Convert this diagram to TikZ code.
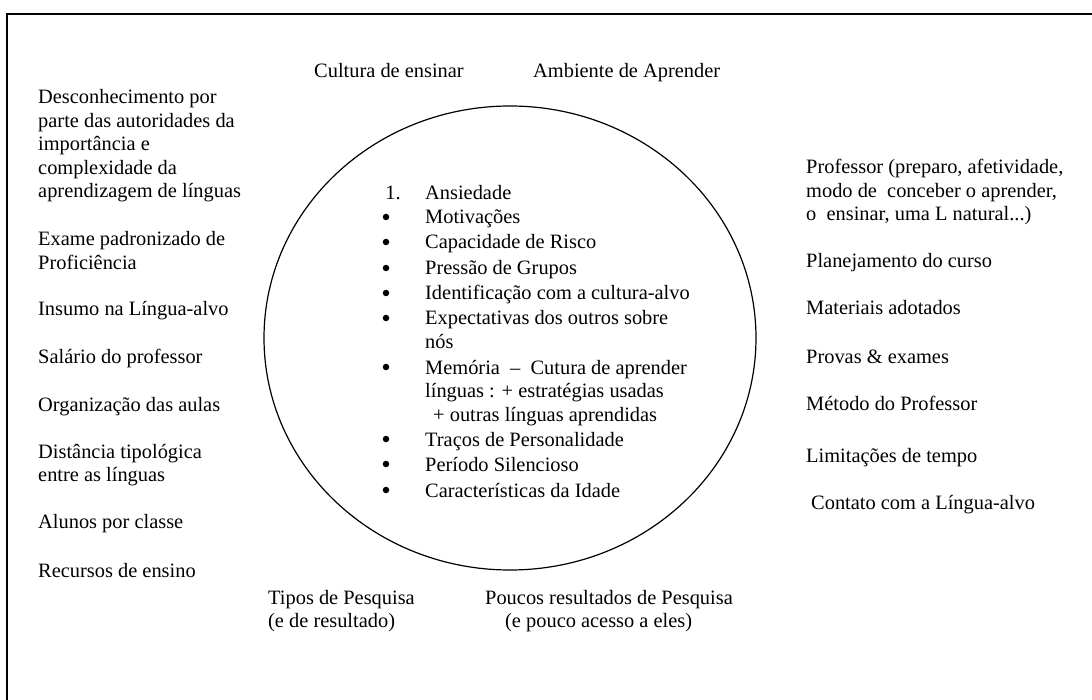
\documentclass[tikz,border=0pt]{standalone}
\usepackage{fontspec}
\setmainfont{Liberation Serif}
\usetikzlibrary{shapes.geometric}

\tikzset{
  FactorStyle/.style={anchor=base west,inner sep=0pt,align=left,
    font=\fontsize{20.4}{23.5}\selectfont},
  NumStyle/.style={anchor=base,inner sep=0pt,
    font=\fontsize{20.4}{23.5}\selectfont},
  BulletStyle/.style={circle,fill,inner sep=0pt,minimum size=6.5pt},
}

\begin{document}
\begin{tikzpicture}[x=1pt,y=-1pt]
          \useasboundingbox (0,0) rectangle (1092,700);
          \draw[line width=2pt] (7,14) rectangle (1110,720);

          \node[draw,ellipse,line width=1.2pt,minimum width=492pt,minimum height=464pt,inner sep=0pt] (aluno) at (510,338) {};

          % no topo
          \node[FactorStyle] (c_1) at (314,78) {Cultura de ensinar};
          \node[FactorStyle] (c_2) at (533,78) {Ambiente de Aprender};

          % lado esquerdo (y = linha de base da ultima linha)
          \node[FactorStyle] (l_1) at (38,198) {Desconhecimento por\\parte das autoridades da\\importância e\\complexidade da\\aprendizagem de línguas};
          \node[FactorStyle] (l_2) at (38,269.5) {Exame padronizado de\\Proficiência};
          \node[FactorStyle] (l_3) at (38,316) {Insumo na Língua-alvo};
          \node[FactorStyle] (l_4) at (38,363) {Salário do professor};
          \node[FactorStyle] (l_5) at (38,411) {Organização das aulas};
          \node[FactorStyle] (l_6) at (38,481.5) {Distância tipológica\\entre as línguas};
          \node[FactorStyle] (l_7) at (38,528) {Alunos por classe};
          \node[FactorStyle] (l_8) at (38,577) {Recursos de ensino};

          % lado direito
          \node[FactorStyle] (r_1) at (806,221) {Professor (preparo, afetividade,\\modo de\ \ conceber o aprender,\\o\ \ ensinar, uma L natural...)};
          \node[FactorStyle] (r_2) at (806,268) {Planejamento do curso};
          \node[FactorStyle] (r_3) at (806,315) {Materiais adotados};
          \node[FactorStyle] (r_4) at (806,363) {Provas \& exames};
          \node[FactorStyle] (r_5) at (806,410) {Método do Professor};
          \node[FactorStyle] (r_6) at (806,462) {Limitações de tempo};
          \node[FactorStyle] (r_7) at (811,509) {Contato com a Língua-alvo};

          % embaixo
          \node[FactorStyle] (p_1) at (268,627.5) {Tipos de Pesquisa\\(e de resultado)};
          \node[FactorStyle] (p_2) at (485,627.5) {Poucos resultados de Pesquisa\\\hspace{20pt}(e pouco acesso a eles)};

          % dentro
          \node[NumStyle] (n_1) at (393,200) {1.};
          \node[FactorStyle] (i_1) at (425,200) {Ansiedade};
          \foreach \yb/\yt/\name/\txt in {224/224/i_2/Motivações,
                                     249/249/i_3/Capacidade de Risco,
                                     275/275/i_4/Pressão de Grupos,
                                     300/300/i_5/Identificação com a cultura-alvo,
                                     325/348.5/i_6/{Expectativas dos outros sobre\\nós},
                                     374/421/i_7/{Memória\ \ –\ \ Cutura de aprender\\línguas : + estratégias usadas\\\hspace{8pt}+ outras línguas aprendidas},
                                     446/446/i_8/Traços de Personalidade,
                                     471/471/i_9/Período Silencioso,
                                     497/497/i_10/Características da Idade}{
            \node[BulletStyle] (b\name) at (386,\yb-7) {};
            \node[FactorStyle] (\name) at (425,\yt) {\txt};
          }
\end{tikzpicture}
\end{document}
